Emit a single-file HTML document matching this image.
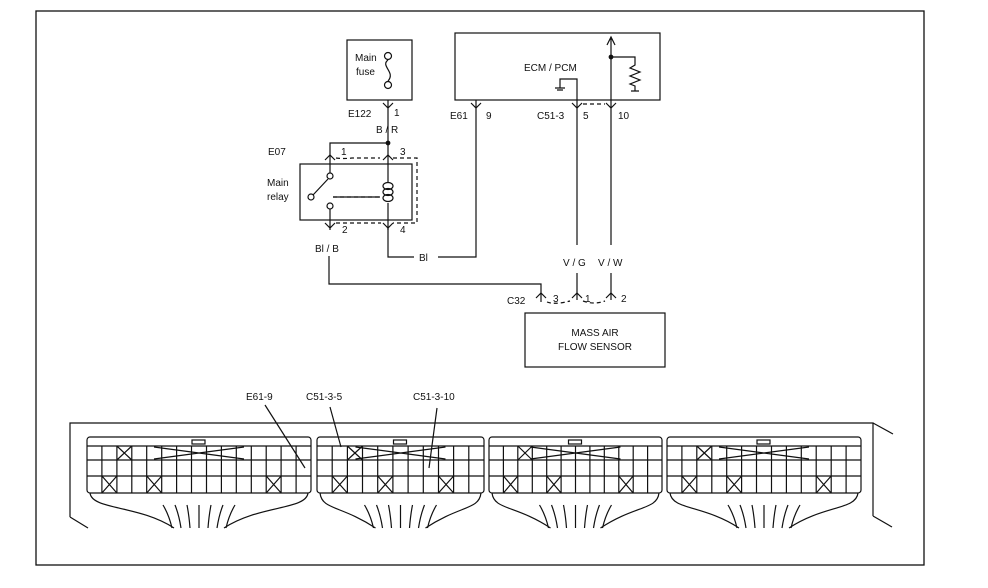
<!DOCTYPE html>
<html><head><meta charset="utf-8"><style>
html,body{margin:0;padding:0;background:#fff;}
svg{display:block;font-family:"Liberation Sans",sans-serif;}
text{font-size:10px;fill:#111;}
</style></head><body>
<svg id="s" width="988" height="588" viewBox="0 0 988 588" xmlns="http://www.w3.org/2000/svg" stroke="#111" fill="none" stroke-width="1.2">
<rect x="36" y="11" width="888" height="554" stroke-width="1.3"/>
<!-- Main fuse -->
<rect x="347" y="40" width="65" height="60"/>
<circle cx="388" cy="56" r="3.5" fill="#fff"/><circle cx="388" cy="85" r="3.5" fill="#fff"/>
<path d="M388 60 C380 66,396 72,388 81"/>
<path d="M388 100 V143 M383 103 L388 108 L393 103"/>
<g stroke="none"><text x="355" y="61">Main</text><text x="356" y="75">fuse</text>
<text x="348" y="117">E122</text><text x="394" y="116">1</text><text x="376" y="133">B / R</text></g>
<!-- Relay -->
<path d="M330 176 V143 H388 V172"/><circle cx="388" cy="143" r="1.8" fill="#111"/>
<path d="M325 160 L330 155 L335 160 M383 160 L388 155 L393 160"/>
<path d="M336 158 Q344 159 352 158 L380 158" stroke-dasharray="4 3"/>
<rect x="300" y="164" width="112" height="56"/>
<path d="M393 158 H417 V223 H393" stroke-dasharray="4 3"/>
<path d="M336 223 H381" stroke-dasharray="4 3"/>
<circle cx="330" cy="176" r="3" fill="#fff"/><circle cx="330" cy="206" r="3" fill="#fff"/><circle cx="311" cy="197" r="3" fill="#fff"/>
<path d="M313 195 L328 179 M333 197 H380 M330 209 V230" />
<path d="M333 197 H380" stroke-dasharray="4 3"/>
<path d="M388 172 V182 M388 203 V230"/>
<ellipse cx="388" cy="186" rx="5" ry="3.5"/><ellipse cx="388" cy="192" rx="5" ry="3.5"/><ellipse cx="388" cy="198" rx="5" ry="3.5"/>
<path d="M325 223 L330 228 L335 223 M383 223 L388 228 L393 223"/>
<g stroke="none"><text x="268" y="155">E07</text><text x="341" y="155">1</text><text x="400" y="155">3</text>
<text x="267" y="186">Main</text><text x="267" y="200">relay</text>
<text x="342" y="233">2</text><text x="400" y="233">4</text><text x="315" y="252">Bl / B</text>
<text x="419" y="261">Bl</text></g>
<path d="M388 228 V257 H414 M438 257 H476 V100"/>
<path d="M471 103 L476 108 L481 103"/>
<!-- ECM -->
<rect x="455" y="33" width="205" height="67"/>
<g stroke="none"><text x="524" y="71">ECM / PCM</text><text x="450" y="119">E61</text><text x="486" y="119">9</text>
<text x="537" y="119">C51-3</text><text x="583" y="119">5</text><text x="618" y="119">10</text></g>
<path d="M577 245 V79 H560 V88 M555 88 H565 M557 90 H563"/>
<path d="M572 103 L577 108 L582 103 M606 103 L611 108 L616 103"/>
<path d="M583 104 H605" stroke-dasharray="4 3"/>
<path d="M611 245 V38 M607 45 L611 37 L615 45"/>
<circle cx="611" cy="57" r="1.8" fill="#111"/>
<path d="M611 57 H635 V65 L630 68 L640 72 L630 76 L640 80 L630 84 L635 86 V91 M631 91 H639"/>
<g stroke="none"><text x="563" y="266">V / G</text><text x="598" y="266">V / W</text></g>
<path d="M577 273 V300 M611 273 V300"/>
<path d="M329 256 V284 H541 V302"/>
<path d="M536 298 L541 293 L546 298 M572 298 L577 293 L582 298 M606 298 L611 293 L616 298"/>
<path d="M547 302 Q555 305 570 301 M583 301 Q594 305 605 301" stroke-dasharray="4 3"/>
<rect x="525" y="313" width="140" height="54"/>
<g stroke="none"><text x="507" y="304">C32</text><text x="553" y="302">3</text><text x="585" y="302">1</text><text x="621" y="302">2</text>
<text x="595" y="336" text-anchor="middle">MASS AIR</text><text x="595" y="350" text-anchor="middle">FLOW SENSOR</text>
<text x="246" y="400">E61-9</text><text x="306" y="400">C51-3-5</text><text x="413" y="400">C51-3-10</text></g>
<path d="M265 405 L305 468 M330 407 L341 447 M437 408 L429 468"/>
<!-- ECM connector outline -->
<path d="M70 517 V423 H873 V516 M70 517 L88 528 M873 423 L893 434 M873 516 L892 527"/>
<g id="blocks"></g>
</svg>
<script>
var g=document.getElementById('blocks'),h='';
var B=[[87,311],[317,484],[489,662],[667,861]];
B.forEach(function(b,i){
 var x0=b[0],x1=b[1],w=x1-x0;
 h+='<rect x="'+x0+'" y="437" width="'+w+'" height="56" rx="3"/>';
 [446,460,476].forEach(function(y){h+='<path d="M'+x0+' '+y+' H'+x1+'"/>';});
 var n=Math.round(w/15),cw=w/n;
 for(var k=1;k<n;k++){var x=x0+k*cw;h+='<path d="M'+x.toFixed(1)+' 446 V493"/>';}
 // crosses
 [1,4,n-3].forEach(function(k){var x=x0+k*cw;h+='<path d="M'+x+' 476 L'+(x+cw)+' 493 M'+(x+cw)+' 476 L'+x+' 493"/>';});
 var x=x0+cw*2;h+='<path d="M'+x+' 446 L'+(x+cw)+' 460 M'+(x+cw)+' 446 L'+x+' 460"/>';
 var mx=x0+w/2;h+='<path d="M'+(mx-45)+' 447 L'+(mx+45)+' 459 M'+(mx+45)+' 447 L'+(mx-45)+' 459"/>';
 h+='<rect x="'+(mx-7)+' " y="440" width="13" height="4"/>';
 // fan-out
 h+='<path d="M'+(x0+3)+' 493 C'+(x0+5)+' 510,'+(mx-60)+' 505,'+(mx-25)+' 528"/>';
 h+='<path d="M'+(x1-3)+' 493 C'+(x1-5)+' 510,'+(mx+60)+' 505,'+(mx+25)+' 528"/>';
 for(var j=-3;j<=3;j++){var xx=mx+j*9;h+='<path d="M'+(xx+j*3)+' 505 Q'+(xx+j)+' 515 '+xx+' 528"/>';}
});
g.innerHTML=h;
</script>
</body></html>
